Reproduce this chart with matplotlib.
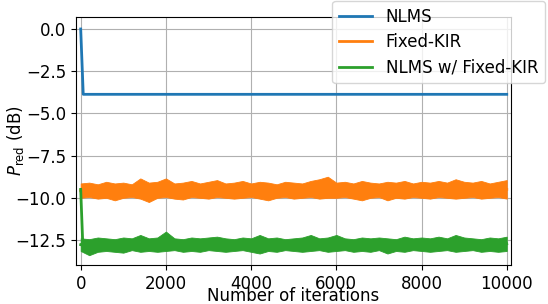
import numpy as np
import matplotlib
matplotlib.use('Agg')
import matplotlib.pyplot as plt

# iteration grid for the noisy bands (upper / lower envelope)
band_iter = list(range(0, 10001, 200))

fixed_upper = [-9.15, -9.1, -9.2, -9.05, -9.15, -9.1, -9.2, -8.85, -9.1, -9.05,
               -8.85, -9.15, -9.1, -9.0, -9.15, -9.05, -8.95, -9.15, -9.1, -9.0,
               -9.15, -9.05, -9.1, -9.2, -9.05, -9.1, -9.15, -9.0, -8.9, -8.75,
               -9.1, -9.05, -9.15, -9.0, -9.1, -9.15, -9.05, -9.1, -9.0, -9.15,
               -9.05, -9.1, -9.0, -9.1, -8.9, -9.05, -9.1, -9.0, -9.15, -9.05, -8.95]
fixed_lower = [-10.0, -9.95, -10.05, -10.0, -10.15, -10.0, -9.95, -10.05, -10.25, -10.0,
               -9.95, -10.05, -10.1, -9.95, -10.0, -10.05, -9.95, -10.0, -10.05, -10.0,
               -9.95, -10.05, -10.15, -10.0, -9.95, -10.05, -10.0, -9.95, -10.05, -10.0,
               -10.0, -9.95, -10.05, -10.15, -10.0, -9.95, -10.15, -10.0, -10.05, -9.95,
               -10.0, -10.05, -9.95, -10.0, -10.05, -10.0, -9.95, -10.05, -10.0, -9.95, -10.05]

combo_upper = [-12.4, -12.45, -12.35, -12.4, -12.45, -12.35, -12.4, -12.2, -12.4, -12.35,
               -12.0, -12.4, -12.45, -12.35, -12.4, -12.35, -12.3, -12.4, -12.45, -12.35,
               -12.4, -12.2, -12.4, -12.35, -12.45, -12.4, -12.35, -12.2, -12.4, -12.35,
               -12.2, -12.4, -12.45, -12.35, -12.4, -12.35, -12.4, -12.45, -12.3, -12.4,
               -12.35, -12.4, -12.3, -12.4, -12.2, -12.35, -12.4, -12.45, -12.35, -12.4, -12.3]
combo_lower = [-13.15, -13.4, -13.2, -13.15, -13.2, -13.25, -13.1, -13.2, -13.15, -13.2,
               -13.15, -13.1, -13.2, -13.15, -13.2, -13.1, -13.15, -13.2, -13.15, -13.1,
               -13.2, -13.3, -13.15, -13.2, -13.1, -13.15, -13.2, -13.15, -13.1, -13.2,
               -13.15, -13.1, -13.2, -13.15, -13.2, -13.1, -13.3, -13.15, -13.2, -13.1,
               -13.15, -13.2, -13.15, -13.1, -13.2, -13.15, -13.1, -13.2, -13.15, -13.2, -13.15]

# NLMS curve: start, converged knee, end
nlms_iter = [0, 60, 10000]
nlms_vals = [0.0, -3.87, -3.87]

# initial transient of the combined method
combo_start_iter = [0, 50]
combo_start_vals = [-9.5, -12.8]

labels = ['NLMS', 'Fixed-KIR', 'NLMS w/ Fixed-KIR']

plt.rcParams['font.size'] = 12

fig = plt.figure(figsize=(5.48, 3.04), dpi=100)
ax = fig.add_axes([76 / 548, 39 / 304, 435 / 548, 248 / 304])

band_iter = np.array(band_iter)
fixed_mid = (np.array(fixed_upper) + np.array(fixed_lower)) / 2
combo_mid = (np.array(combo_upper) + np.array(combo_lower)) / 2

ax.plot(nlms_iter, nlms_vals, color='C0', lw=2, label=labels[0])

ax.fill_between(band_iter, fixed_lower, fixed_upper, color='C1', lw=0.6, edgecolor='C1')
ax.plot(band_iter, fixed_mid, color='C1', lw=2, label=labels[1])

ax.plot(combo_start_iter, combo_start_vals, color='C2', lw=2)
ax.fill_between(band_iter, combo_lower, combo_upper, color='C2', lw=0.6, edgecolor='C2')
ax.plot(band_iter, combo_mid, color='C2', lw=2, label=labels[2])

ax.set_xlim(-110, 10100)
ax.set_ylim(-13.98, 0.71)
ax.set_xticks([0, 2000, 4000, 6000, 8000, 10000])
ax.set_yticks([0.0, -2.5, -5.0, -7.5, -10.0, -12.5])
ax.grid(True)
ax.set_axisbelow(True)

ax.set_xlabel('Number of iterations')
ax.xaxis.set_label_coords(0.5, -0.09)
ax.set_ylabel(r'$P_{\mathrm{red}}$ (dB)')
ax.yaxis.set_label_coords(-0.115, 0.5)

ax.legend(loc='upper right', bbox_to_anchor=(545 / 548, 303 / 304),
          bbox_transform=fig.transFigure, borderaxespad=0, labelspacing=0.45)

fig.savefig('out.png', dpi=100)
